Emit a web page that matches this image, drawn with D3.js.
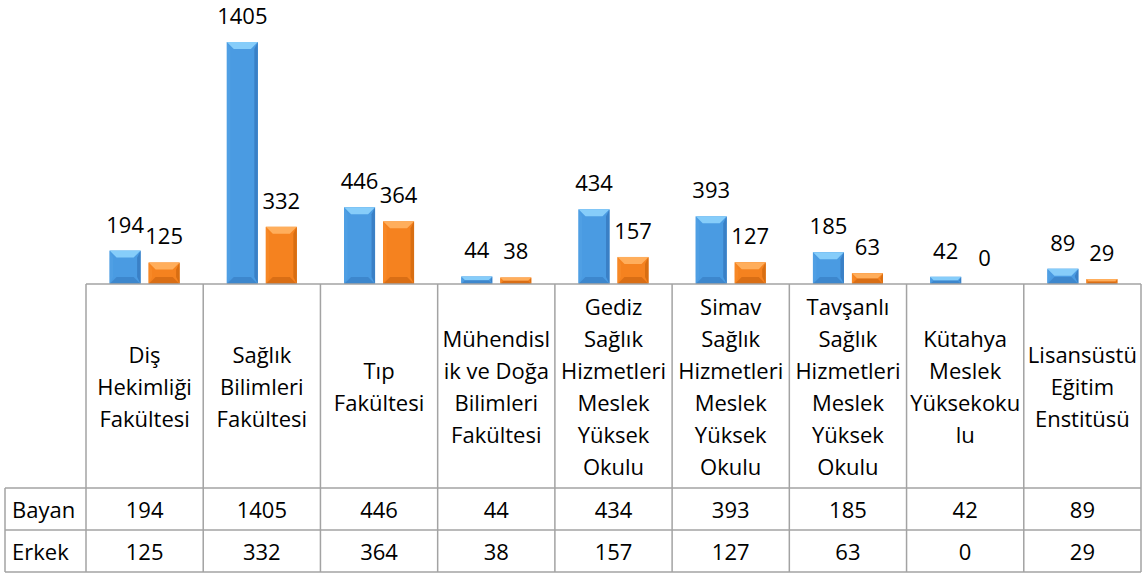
<!DOCTYPE html>
<html>
<head>
<meta charset="utf-8">
<script src="https://cdn.jsdelivr.net/npm/d3@7"></script>
<style>
  body { margin: 0; background: #fff; }
  text { font-family: "Open Sans", "Noto Sans", sans-serif; fill: #000; }
</style>
</head>
<body>
<script>
// data
var categories = [
    "Diş\nHekimliği\nFakültesi",
    "Sağlık\nBilimleri\nFakültesi",
    "Tıp\nFakültesi",
    "Mühendisl\nik ve Doğa\nBilimleri\nFakültesi",
    "Gediz\nSağlık\nHizmetleri\nMeslek\nYüksek\nOkulu",
    "Simav\nSağlık\nHizmetleri\nMeslek\nYüksek\nOkulu",
    "Tavşanlı\nSağlık\nHizmetleri\nMeslek\nYüksek\nOkulu",
    "Kütahya\nMeslek\nYüksekoku\nlu",
    "Lisansüstü\nEğitim\nEnstitüsü"
];
var seriesNames = ["Bayan", "Erkek"];
var bayan = [194, 1405, 446, 44, 434, 393, 185, 42, 89];
var erkek = [125, 332, 364, 38, 157, 127, 63, 0, 29];
var seriesValues = [bayan, erkek];

var width = 1148;
var height = 574;
var baseY = 284;          // plot baseline = top of the table
var tableLeft = 5;
var colLeft = 86;
var tableRight = 1141;
var headerBottom = 488;
var rowH = 42;
var fontSize = 22;
var lineColor = "#a3a3a3";

var colors = {
    Bayan: { body: "#4a9be2", top: "#86cdfa", bottom: "#2e6fb3", left: "#4f9fe4", right: "#3a80c6" },
    Erkek: { body: "#f5821f", top: "#ffae5c", bottom: "#b95708", left: "#f78826", right: "#d86e12" }
};

var svg = d3.select("body").append("svg")
    .attr("width", width)
    .attr("height", height);

var x0 = d3.scaleBand()
    .domain(d3.range(categories.length))
    .range([colLeft, tableRight])
    .padding(0);

var groupW = 70;
var x1 = d3.scaleBand()
    .domain(seriesNames)
    .range([0, groupW])
    .paddingInner(8 / 39);

var y = d3.scaleLinear()
    .domain([0, 1405])
    .range([baseY, 42]);

// bars with a bevel look
function bevelBar(g, x, yTop, w, h, c) {
    if (h <= 0) return;
    var b = Math.min(7, h / 2, w / 2);
    var yb = yTop + h;
    g.append("rect").attr("x", x).attr("y", yTop).attr("width", w).attr("height", h).attr("fill", c.body);
    g.append("polygon").attr("fill", c.left)
        .attr("points", [[x, yTop], [x + b / 2, yTop + b], [x + b / 2, yb - b], [x, yb]].join(" "));
    g.append("polygon").attr("fill", c.right)
        .attr("points", [[x + w, yTop], [x + w - b / 2, yTop + b], [x + w - b / 2, yb - b], [x + w, yb]].join(" "));
    g.append("polygon").attr("fill", c.top)
        .attr("points", [[x, yTop], [x + w, yTop], [x + w - b, yTop + b], [x + b, yTop + b]].join(" "));
    g.append("polygon").attr("fill", c.bottom).attr("opacity", 0.45)
        .attr("points", [[x, yb], [x + w, yb], [x + w - b, yb - b], [x + b, yb - b]].join(" "));
}

var groups = svg.selectAll("g.cat")
    .data(categories)
    .enter()
    .append("g")
    .attr("class", "cat")
    .attr("transform", function(d, i) {
        return "translate(" + (x0(i) + (x0.bandwidth() - groupW) / 2) + ",0)";
    });

groups.each(function(d, i) {
    var g = d3.select(this);
    seriesNames.forEach(function(s, k) {
        var v = seriesValues[k][i];
        var bx = x1(s);
        bevelBar(g, bx, y(v), x1.bandwidth(), baseY - y(v), colors[s]);
        g.append("text")
            .attr("x", bx + x1.bandwidth() / 2)
            .attr("y", y(v) - 18)
            .attr("text-anchor", "middle")
            .style("font-size", fontSize + "px")
            .text(v);
    });
});

// data table
var table = svg.append("g").attr("stroke", lineColor).attr("stroke-width", 1.5).attr("fill", "none");
var rowsBottom = headerBottom + rowH * seriesNames.length;

table.append("line").attr("x1", colLeft).attr("x2", tableRight).attr("y1", baseY).attr("y2", baseY);
seriesNames.forEach(function(s, k) {
    var yy = headerBottom + rowH * k;
    table.append("line").attr("x1", tableLeft).attr("x2", tableRight).attr("y1", yy).attr("y2", yy);
});
table.append("line").attr("x1", tableLeft).attr("x2", tableRight).attr("y1", rowsBottom).attr("y2", rowsBottom);
table.append("line").attr("x1", tableLeft).attr("x2", tableLeft).attr("y1", headerBottom).attr("y2", rowsBottom);
d3.range(categories.length + 1).forEach(function(i) {
    var xx = i < categories.length ? x0(i) : tableRight;
    table.append("line").attr("x1", xx).attr("x2", xx).attr("y1", baseY).attr("y2", rowsBottom);
});

// header texts
var lineH = 32;
var headerMid = (baseY + headerBottom) / 2;
categories.forEach(function(c, i) {
    var lines = c.split("\n");
    var t = svg.append("text")
        .attr("text-anchor", "middle")
        .style("font-size", fontSize + "px");
    lines.forEach(function(l, j) {
        t.append("tspan")
            .attr("x", x0(i) + x0.bandwidth() / 2)
            .attr("y", headerMid + (j - (lines.length - 1) / 2) * lineH)
            .attr("dominant-baseline", "central")
            .text(l);
    });
});

// value rows
seriesNames.forEach(function(s, k) {
    var cy = headerBottom + rowH * k + rowH / 2;
    svg.append("text")
        .attr("x", tableLeft + 7)
        .attr("y", cy)
        .attr("dominant-baseline", "central")
        .style("font-size", fontSize + "px")
        .text(s);
    seriesValues[k].forEach(function(v, i) {
        svg.append("text")
            .attr("x", x0(i) + x0.bandwidth() / 2)
            .attr("y", cy)
            .attr("text-anchor", "middle")
            .attr("dominant-baseline", "central")
            .style("font-size", fontSize + "px")
            .text(v);
    });
});
</script>
</body>
</html>
